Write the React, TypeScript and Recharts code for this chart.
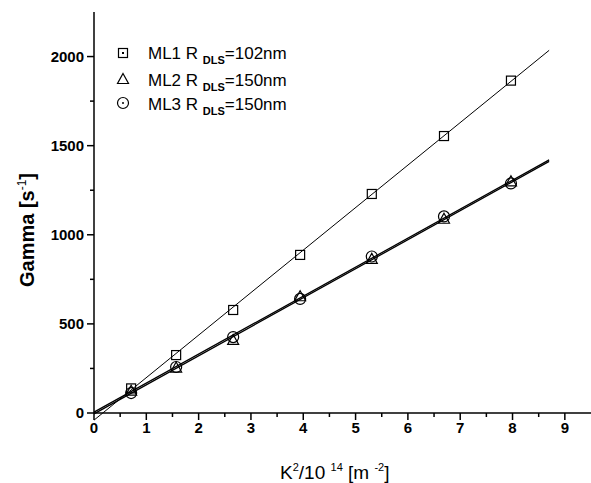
import React from 'react';
import { ScatterChart, Scatter, XAxis, YAxis, ReferenceLine } from 'recharts';

// ---- data ----
const K2 = [0.71, 1.57, 2.66, 3.94, 5.31, 6.69, 7.97];
const ML1 = [138, 325, 578, 887, 1229, 1554, 1865];
const ML2 = [125, 255, 410, 655, 865, 1090, 1300];
const ML3 = [112, 258, 426, 640, 878, 1103, 1288];

const FIT_X = [0, 8.7];
const FIT_ML1 = [-40, 2035];
const FIT_ML2 = [5, 1420];
const FIT_ML3 = [-5, 1412];

const X_TICKS = [0, 0.5, 1, 1.5, 2, 2.5, 3, 3.5, 4, 4.5, 5, 5.5, 6, 6.5, 7, 7.5, 8, 8.5, 9];
const X_LABELS = [0, 1, 2, 3, 4, 5, 6, 7, 8, 9];
const Y_TICKS = [0, 250, 500, 750, 1000, 1250, 1500, 1750, 2000];
const Y_LABELS = [0, 500, 1000, 1500, 2000];

const SERIES_NAMES = ['ML1', 'ML2', 'ML3'];
const SERIES_RADII = ['102nm', '150nm', '150nm'];

const X_DOMAIN = [0, 9.5];
const Y_DOMAIN = [0, 2250];

// ---- layout ----
const W = 591;
const H = 483;
const AXIS_X = 94;
const AXIS_Y = 413;
const FONT = 'Arial, "Liberation Sans", Helvetica, sans-serif';

const pts = (ys: number[]) => K2.map((x, i) => ({ x, y: ys[i] }));
const seg = (ys: number[]) => FIT_X.map((x, i) => ({ x, y: ys[i] }));

const SquareShape = (p: any) => (
  <rect x={p.cx - 4.5} y={p.cy - 4.5} width={9} height={9} fill="none" stroke="#000" strokeWidth={1.2} />
);
const TriangleShape = (p: any) => (
  <polygon
    points={`${p.cx},${p.cy - 5.5} ${p.cx + 5.5},${p.cy + 4.5} ${p.cx - 5.5},${p.cy + 4.5}`}
    fill="none"
    stroke="#000"
    strokeWidth={1.2}
  />
);
const CircleShape = (p: any) => <circle cx={p.cx} cy={p.cy} r={5.5} fill="none" stroke="#000" strokeWidth={1.2} />;

const YTick = (p: any) => {
  const v = p.payload.value;
  const major = Y_LABELS.includes(v);
  return (
    <g>
      <line x1={AXIS_X} x2={AXIS_X - (major ? 7 : 4)} y1={p.y} y2={p.y} stroke="#000" strokeWidth={1.5} />
      {major && (
        <text x={84} y={p.y + 5} textAnchor="end" fontFamily={FONT} fontSize={15} fontWeight="bold" fill="#000">
          {v}
        </text>
      )}
    </g>
  );
};

const XTick = (p: any) => {
  const v = p.payload.value;
  const major = X_LABELS.includes(v);
  return (
    <g>
      <line x1={p.x} x2={p.x} y1={AXIS_Y} y2={AXIS_Y + (major ? 7 : 4)} stroke="#000" strokeWidth={1.5} />
      {major && (
        <text x={p.x} y={433} textAnchor="middle" fontFamily={FONT} fontSize={15} fontWeight="bold" fill="#000">
          {v}
        </text>
      )}
    </g>
  );
};

const XTitle = () => (
  <text x={280} y={479} fontFamily={FONT} fontSize={19} fill="#000">
    <tspan>K</tspan>
    <tspan dy={-8} fontSize={11}>2</tspan>
    <tspan dy={8}>/10 </tspan>
    <tspan dy={-8} fontSize={11}>14</tspan>
    <tspan dy={8}> [m  </tspan>
    <tspan dy={-8} fontSize={11}>-2</tspan>
    <tspan dy={8}>]</tspan>
  </text>
);

const YTitle = () => (
  <text
    x={34}
    y={230}
    textAnchor="middle"
    transform="rotate(-90, 34, 230)"
    fontFamily={FONT}
    fontSize={20}
    fontWeight="bold"
    fill="#000"
  >
    <tspan>Gamma [s</tspan>
    <tspan dy={-8} fontSize={12} fontWeight="normal">-1</tspan>
    <tspan dy={8}>]</tspan>
  </text>
);

const LEG_L = 110;
const LEG_T = 38;
const LegendBox = () => {
  const rows = [53, 79, 103];
  const base = [59, 86, 110];
  const shapes = [SquareShape, TriangleShape, CircleShape];
  return (
    <svg
      width={220}
      height={85}
      style={{ position: 'absolute', left: LEG_L, top: LEG_T, display: 'block' }}
    >
      {SERIES_NAMES.map((name, i) => {
        const S = shapes[i];
        const cx = 123 - LEG_L;
        const cy = rows[i] - LEG_T;
        return (
          <g key={name}>
            <S cx={cx} cy={cy} />
            {i === 0 && <rect x={cx - 1} y={cy - 1} width={2} height={2} fill="#000" />}
            {i === 2 && <circle cx={cx} cy={cy} r={1} fill="#000" />}
            <text x={148 - LEG_L} y={base[i] - LEG_T} fontFamily={FONT} fontSize={17} fill="#000">
              <tspan>{name} R </tspan>
              <tspan dy={5} fontSize={11} fontWeight="bold">DLS</tspan>
              <tspan dy={-5}>={SERIES_RADII[i]}</tspan>
            </text>
          </g>
        );
      })}
    </svg>
  );
};

export default function App() {
  return (
    <div style={{ position: 'absolute', left: 0, top: 0, width: W, height: H, background: '#fff' }}>
      <ScatterChart width={W} height={H} margin={{ top: 12, right: 0, bottom: 0, left: 0 }}>
        <XAxis
          xAxisId={0}
          type="number"
          dataKey="x"
          domain={X_DOMAIN}
          ticks={X_TICKS}
          interval={0}
          tick={<XTick />}
          tickLine={false}
          axisLine={{ stroke: '#000', strokeWidth: 1.5 }}
          height={70}
          allowDataOverflow
          label={<XTitle />}
        />
        <XAxis
          xAxisId="top"
          orientation="top"
          type="number"
          dataKey="x"
          domain={X_DOMAIN}
          tick={false}
          tickLine={false}
          height={0}
          axisLine={{ stroke: '#000', strokeWidth: 1.5 }}
          allowDataOverflow
        />
        <YAxis
          type="number"
          dataKey="y"
          domain={Y_DOMAIN}
          ticks={Y_TICKS}
          interval={0}
          tick={<YTick />}
          tickLine={false}
          axisLine={{ stroke: '#000', strokeWidth: 1.5 }}
          width={94}
          allowDataOverflow
          label={<YTitle />}
        />
        <ReferenceLine segment={seg(FIT_ML1)} stroke="#000" strokeWidth={1} ifOverflow="visible" />
        <ReferenceLine segment={seg(FIT_ML2)} stroke="#000" strokeWidth={1.3} ifOverflow="visible" />
        <ReferenceLine segment={seg(FIT_ML3)} stroke="#000" strokeWidth={1.3} ifOverflow="visible" />
        <Scatter name="ML1" data={pts(ML1)} shape={SquareShape} isAnimationActive={false} />
        <Scatter name="ML2" data={pts(ML2)} shape={TriangleShape} isAnimationActive={false} />
        <Scatter name="ML3" data={pts(ML3)} shape={CircleShape} isAnimationActive={false} />
      </ScatterChart>
      <LegendBox />
    </div>
  );
}
